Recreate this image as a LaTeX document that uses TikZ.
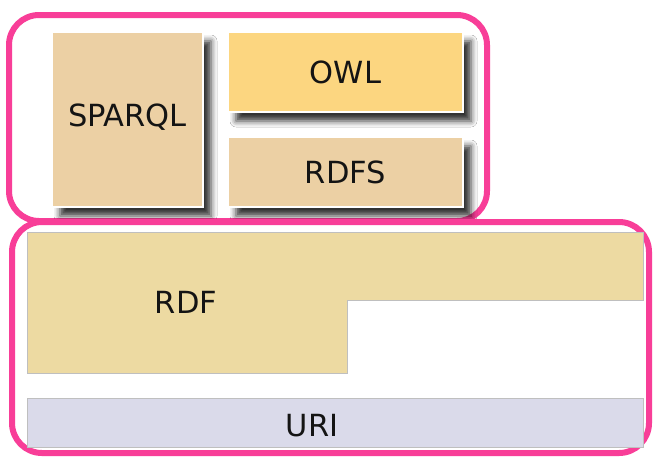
\documentclass[tikz,border=0pt]{standalone}
\usepackage{fontspec}
\setmainfont{DejaVu Sans}
\usetikzlibrary{shadows.blur}
\definecolor{pinkline}{RGB}{248,62,152}
\definecolor{tan}{RGB}{236,208,164}
\definecolor{gold}{RGB}{252,214,128}
\definecolor{rdfcol}{RGB}{237,218,162}
\definecolor{uricol}{RGB}{218,218,234}
\tikzset{
  group/.style={draw=pinkline, line width=6pt, rounded corners=30pt},
  layer/.style={draw=white, line width=2pt, inner sep=0pt,
    blur shadow={shadow xshift=8pt, shadow yshift=-9pt,
      shadow blur radius=6pt, shadow opacity=80}},
  flat/.style={draw=black!25, line width=0.8pt},
  lbl/.style={font=\fontsize{30.5}{34}\selectfont, text=black!92, inner sep=0pt}
}
\begin{document}
\begin{tikzpicture}[x=1pt, y=-1pt]
\useasboundingbox (0,0) rectangle (655,458);
\fill[white] (0,0) rectangle (655,458);

% upper group: query and ontology languages
\node[group, minimum width=478pt, minimum height=206pt] (top) at (248,118) {};
\node[layer, fill=tan, minimum width=151pt, minimum height=175pt] (sparql) at (127.5,119.5) {};
\node[layer, fill=gold, minimum width=235pt, minimum height=80pt] (owl) at (345.5,72) {};
\node[layer, fill=tan, minimum width=235pt, minimum height=70pt] (rdfs) at (345.5,172) {};
\node[lbl] at ([yshift=2pt]sparql.center) {SPARQL};
\node[lbl] at (owl.center) {OWL};
\node[lbl] at (rdfs.center) {RDFS};

% lower group: data model and identifiers
\node[group, minimum width=637pt, minimum height=231pt] (bottom) at (330.5,337.5) {};
\fill[rdfcol, draw=black!25, line width=0.8pt]
  (27,232) -- (643,232) -- (643,300) -- (347,300) -- (347,373) -- (27,373) -- cycle;
\node[lbl] (rdf) at (186,302) {RDF};
\node[flat, fill=uricol, minimum width=616pt, minimum height=49pt, inner sep=0pt] (uribox) at (335,422.5) {};
\node[lbl] (uri) at (312,426) {URI};
\end{tikzpicture}
\end{document}
